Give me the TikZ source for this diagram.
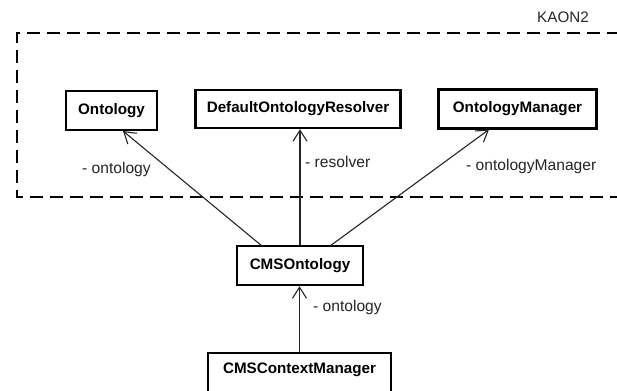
\documentclass[tikz,border=0pt]{standalone}
\usepackage{fontspec}
\setmainfont{Liberation Sans}
\usetikzlibrary{arrows.meta}
\begin{document}
\begin{tikzpicture}[x=1pt,y=-1pt,
  cls/.style={draw=black,line width=2.4pt,fill=white,inner sep=0pt,font=\fontsize{15.2}{17}\selectfont\bfseries},
  assoc/.style={draw=black!85,line width=1.1pt,-{Straight Barb[length=11pt,width=14pt,line width=1.1pt]}},
  lbl/.style={font=\fontsize{15.6}{17}\selectfont,text=black!85,inner sep=0pt,anchor=west},
  pkg/.style={draw=black,line width=2.6pt,dash pattern=on 13pt off 7pt}]
\useasboundingbox (0,0) rectangle (617,390);
\fill[white] (0,0) rectangle (617,390);
% package frame
\draw[pkg] (640,33) -- (17,33) -- (17,197) -- (640,197);
\node[font=\fontsize{15.2}{17}\selectfont,text=black!85,inner sep=0pt] (kaon) at (563,17) {KAON2};
% classes
\node[cls,minimum width=91pt,minimum height=39pt] (ont) at (111.5,110.5) {Ontology};
\node[cls,minimum width=205pt,minimum height=38pt] (res) at (298,109) {DefaultOntologyResolver};
\node[cls,minimum width=158pt,minimum height=39pt] (man) at (517.5,109) {OntologyManager};
\node[cls,minimum width=126pt,minimum height=39pt] (cms) at (300,265.5) {CMSOntology};
\node[cls,minimum width=183pt,minimum height=44pt,text depth=0pt] (ctx) at (299.5,375) {};
\node[font=\fontsize{15.2}{17}\selectfont\bfseries,inner sep=0pt] (ctxt) at (299.5,370) {CMSContextManager};
% associations
\coordinate (a1) at (262,246);
\coordinate (a3) at (330,246);
\draw[assoc] (a1) -- (123,131);
\draw[assoc] (cms.north -| res.south) ++(2,0) -- ([xshift=2pt]res.south);
\draw[assoc] (a3) -- (489,129.5);
\draw[assoc] (ctx.north) -- (cms.south -| ctx.north);
% labels
\node[lbl] (l1) at (82,169) {- ontology};
\node[lbl] (l2) at (305,162) {- resolver};
\node[lbl] (l3) at (466,166) {- ontologyManager};
\node[lbl] (l4) at (313,307) {- ontology};
\end{tikzpicture}
\end{document}
